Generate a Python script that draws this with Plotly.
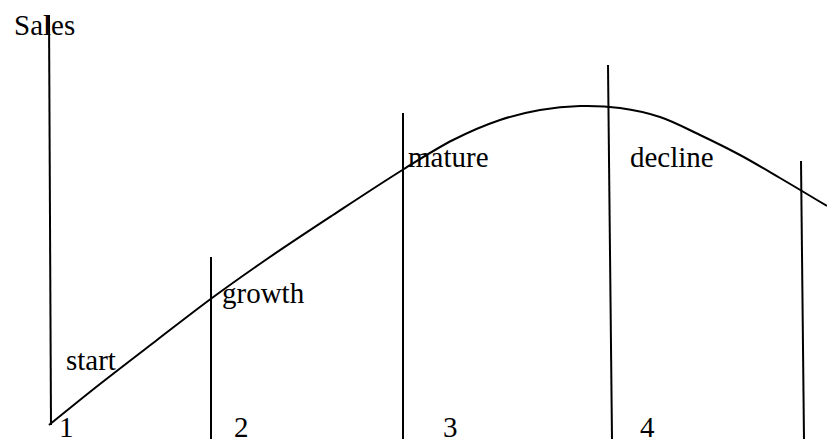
import plotly.graph_objects as go

# sales curve (x = time, y = pixels from top)
sales_x = [49, 100, 157, 212, 267, 333, 404, 453, 500, 540, 580,
           620, 660, 700, 740, 780, 827]
sales_y = [425, 384, 340, 298, 259, 215, 169, 140, 120, 110, 106,
           108, 117, 135, 155, 178, 206]

# vertical stage dividers (top / bottom ends)
divider_x_top = [49, 211, 403, 608, 801]
divider_x_bottom = [51, 211, 403, 612, 804]
divider_y_top = [15, 257, 113, 65, 161]
divider_y_bottom = [425, 439, 439, 439, 439]

stage_names = ["start", "growth", "mature", "decline"]
stage_name_x = [64, 220, 406, 628]
stage_name_y = [360, 293, 157, 157]

stage_numbers = ["1", "2", "3", "4"]
stage_number_x = [57, 232, 441, 638]
stage_number_y = [427, 427, 427, 427]

FONT = dict(family="Liberation Serif, Times New Roman, serif", size=29, color="black")

fig = go.Figure()

for xt, xb, yt, yb in zip(divider_x_top, divider_x_bottom, divider_y_top, divider_y_bottom):
    fig.add_trace(go.Scatter(x=[xt, xb], y=[yt, yb], mode="lines",
                             line=dict(color="black", width=2), hoverinfo="skip"))

fig.add_trace(go.Scatter(x=sales_x, y=sales_y, mode="lines",
                         line=dict(color="black", width=2, shape="spline", smoothing=1),
                         hoverinfo="skip"))

fig.add_annotation(x=12, y=25, text="Sales", showarrow=False,
                   xanchor="left", yanchor="middle", font=FONT)
for name, x, y in zip(stage_names, stage_name_x, stage_name_y):
    fig.add_annotation(x=x, y=y, text=name, showarrow=False,
                       xanchor="left", yanchor="middle", font=FONT)
for num, x, y in zip(stage_numbers, stage_number_x, stage_number_y):
    fig.add_annotation(x=x, y=y, text=num, showarrow=False,
                       xanchor="left", yanchor="middle", font=FONT)

fig.update_xaxes(range=[0, 827], visible=False)
fig.update_yaxes(range=[439, 0], visible=False)
fig.update_layout(width=827, height=439, margin=dict(l=0, r=0, t=0, b=0),
                  plot_bgcolor="white", paper_bgcolor="white", showlegend=False)

# drop the browser's default 8px body margin so the figure fills the window
fig.write_html("out.html", config={"displayModeBar": False},
               post_script="document.body.style.margin='0';")
